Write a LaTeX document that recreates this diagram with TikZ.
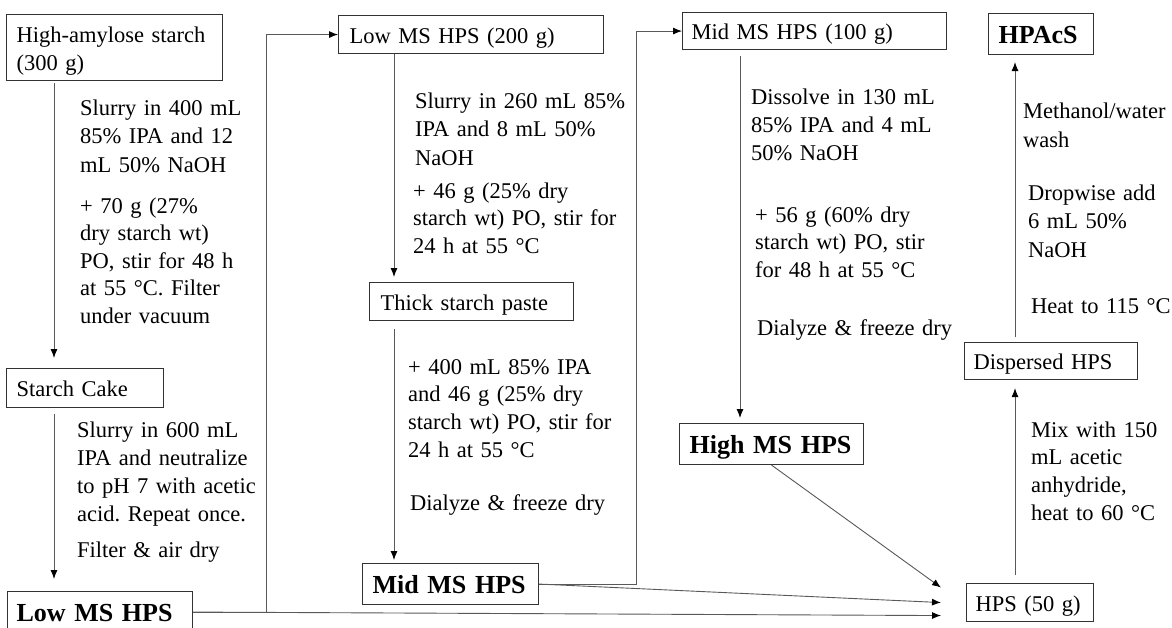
\documentclass[tikz,border=0pt]{standalone}
\usepackage{fontspec}
\setmainfont{Liberation Serif}
\usetikzlibrary{arrows.meta}
\frenchspacing
\begin{document}
\frenchspacing
\begin{tikzpicture}[x=1pt,y=-1pt,
  box/.style={draw=black!80, line width=1.1pt, anchor=north west, inner ysep=0pt, align=left,
    font=\fontsize{22.5}{28}\selectfont, text height=18pt, text depth=1pt},
  bbox/.style={box, font=\fontsize{26}{30}\bfseries\selectfont, text height=19pt, text depth=0pt},
  conn/.style={draw=black!65, line width=0.9pt, -{Latex[length=9pt,width=7pt,fill=black,color=black]}},
  lbl/.style={anchor=base west, inner sep=0pt, align=left, text width=300pt, font=\fontsize{22.5}{#1}\selectfont\frenchspacing},
  lbl/.default=28]
\useasboundingbox (0,0) rectangle (1172,627);
\fill[white] (0,0) rectangle (1172,627);

% boxes
\node[box, minimum width=216pt, minimum height=66pt, inner xsep=10pt, text width=196pt, text height=18pt, text depth=28pt] (ha) at (6,14) {High-amylose starch\\(300 g)};
\node[box, minimum width=157pt, minimum height=39pt, inner xsep=10pt, text width=137pt] (cake) at (6,368) {Starch Cake};
\node[bbox, minimum width=185pt, minimum height=41pt, inner xsep=9pt, text width=167pt] (low) at (7,591) {Low MS HPS};
\node[box, minimum width=265pt, minimum height=38pt, inner xsep=11pt, text width=243pt] (lms200) at (338,15) {Low MS HPS (200 g)};
\node[box, minimum width=204pt, minimum height=38pt, inner xsep=11pt, text width=182pt] (thick) at (369,282) {Thick starch paste};
\node[bbox, minimum width=176pt, minimum height=41pt, inner xsep=10pt, text width=156pt] (mid) at (362,563) {Mid MS HPS};
\node[box, minimum width=264pt, minimum height=37pt, inner xsep=9pt, text width=246pt] (mid100) at (682,12) {Mid MS HPS (100 g)};
\node[bbox, minimum width=184pt, minimum height=41pt, inner xsep=10pt, text width=164pt] (high) at (679,423) {High MS HPS};
\node[bbox, minimum width=105pt, minimum height=41pt, inner xsep=10pt, text width=85pt] (hpacs) at (988,13) {HPAcS};
\node[box, minimum width=173pt, minimum height=37pt, inner xsep=9pt, text width=155pt] (disp) at (964,342) {Dispersed HPS};
\node[box, minimum width=127pt, minimum height=38pt, inner xsep=9pt, text width=109pt] (hps50) at (966,583) {HPS (50 g)};

% labels
\node[lbl=28.5] (l1) at (80,115) {Slurry in 400 mL\\85\% IPA and 12\\mL 50\% NaOH};
\node[lbl=27.5] (l2) at (80,213) {+ 70 g (27\%\\dry starch wt)\\PO, stir for 48 h\\at 55 °C. Filter\\under vacuum};
\node[lbl=28.3] (l3) at (77,437) {Slurry in 600 mL\\IPA and neutralize\\to pH 7 with acetic\\acid. Repeat once.};
\node[lbl] (l4) at (77,557) {Filter \& air dry};
\node[lbl=28.5] (l5) at (415,108) {Slurry in 260 mL 85\%\\IPA and 8 mL 50\%\\NaOH};
\node[lbl=27.5] (l6) at (413,198) {+ 46 g (25\% dry\\starch wt) PO, stir for\\24 h at 55 °C};
\node[lbl=27.7] (l7) at (408,374) {+ 400 mL 85\% IPA\\and 46 g (25\% dry\\starch wt) PO, stir for\\24 h at 55 °C};
\node[lbl] (l8) at (410,510) {Dialyze \& freeze dry};
\node[lbl=28] (l9) at (751,104) {Dissolve in 130 mL\\85\% IPA and 4 mL\\50\% NaOH};
\node[lbl=27.5] (l10) at (755,222) {+ 56 g (60\% dry\\starch wt) PO, stir\\for 48 h at 55 °C};
\node[lbl] (l11) at (757,335) {Dialyze \& freeze dry};
\node[lbl=29] (l12) at (1023,118) {Methanol/water\\wash};
\node[lbl=28.5] (l13) at (1028,200) {Dropwise add\\6 mL 50\%\\NaOH};
\node[lbl] (l14) at (1031,313) {Heat to 115 °C};
\node[lbl=27.7] (l15) at (1031,437) {Mix with 150\\mL acetic\\anhydride,\\heat to 60 °C};

% x positions of vertical connectors
\coordinate (xA) at (54,0);
\coordinate (xB) at (394,0);
\coordinate (xC) at (740,0);
\coordinate (xD) at (1015,0);
\coordinate (xE) at (266,0);
\coordinate (xF) at (636,0);

% connectors
\draw[conn, shorten <=2pt, shorten >=10pt] (ha.south -| xA) -- (cake.north -| xA);
\draw[conn, shorten <=6pt, shorten >=12pt] (cake.south -| xA) -- (low.north -| xA);
\draw[conn] (low.east) -- (low.east -| xE) |- (lms200.west);
\draw[conn] (low.east) -- ([xshift=-25pt,yshift=-13pt]hps50.west);
\draw[conn, shorten >=5pt] (lms200.south -| xB) -- (thick.north -| xB);
\draw[conn, shorten <=8pt, shorten >=3pt] (thick.south -| xB) -- (mid.north -| xB);
\draw[conn] (mid.east) -- (mid.east -| xF) |- (mid100.west);
\draw[conn] (mid.east) -- ([xshift=-25pt]hps50.west);
\draw[conn, shorten <=6pt, shorten >=5pt] (mid100.south -| xC) -- (high.north -| xC);
\draw[conn] (high.south) -- ([xshift=-25pt,yshift=15pt]hps50.west);
\draw[conn, shorten <=8pt, shorten >=8pt] (hps50.north -| xD) -- (disp.south -| xD);
\draw[conn, shorten <=5pt, shorten >=7pt] (disp.north -| xD) -- (hpacs.south -| xD);
\end{tikzpicture}
\end{document}
